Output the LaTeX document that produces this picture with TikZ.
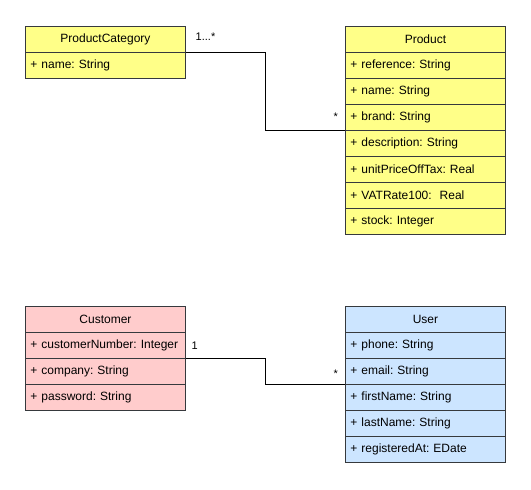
\documentclass[tikz,border=0pt]{standalone}
\usepackage{fontspec}
\setmainfont{Liberation Sans}
\definecolor{yfill}{HTML}{FFFF88}
\definecolor{rfill}{HTML}{FFCCCC}
\definecolor{bfill}{HTML}{CCE5FF}
\definecolor{cstroke}{HTML}{36393D}
\hyphenpenalty=10000
\exhyphenpenalty=10000
\frenchspacing
\begin{document}
\begin{tikzpicture}[x=1pt,y=-1pt,
  box/.style={draw=cstroke, line width=0.9pt, minimum width=160pt, minimum height=26pt,
    inner ysep=0pt, anchor=north west,
    font=\fontsize{12}{14}\selectfont\frenchspacing},
  head/.style={box, text width=148pt, inner xsep=6pt, align=center},
  row/.style={box, text width=150pt, inner xsep=5pt, align=left},
  yel/.style={fill=yfill}, red/.style={fill=rfill}, blu/.style={fill=bfill},
  mult/.style={inner sep=0pt, font=\fontsize{11}{13}\selectfont},
  conn/.style={draw=black, line width=0.9pt}]
\useasboundingbox (0,0) rectangle (531,490);
% ProductCategory
\node[head,yel] (pchead) at (25,26) {ProductCategory};
\node[row,yel] (pcname) at (25,52) {+ name: String};
% Product
\node[head,yel] (phead) at (345,26) {Product};
\node[row,yel] (pref) at (345,52) {+ reference: String};
\node[row,yel] (pname) at (345,78) {+ name: String};
\node[row,yel] (pbrand) at (345,104) {+ brand: String};
\node[row,yel] (pdesc) at (345,130) {+ description: String};
\node[row,yel] (pprice) at (345,156) {+ unitPriceOffTax: Real};
\node[row,yel] (pvat) at (345,182) {+ VATRate100:\ \ Real};
\node[row,yel] (pstock) at (345,208) {+ stock: Integer};
% Customer
\node[head,red] (chead) at (25,306) {Customer};
\node[row,red] (cnum) at (25,332) {+ customerNumber: Integer};
\node[row,red] (ccomp) at (25,358) {+ company: String};
\node[row,red] (cpass) at (25,384) {+ password: String};
% User
\node[head,blu] (uhead) at (345,306) {User};
\node[row,blu] (uphone) at (345,332) {+ phone: String};
\node[row,blu] (uemail) at (345,358) {+ email: String};
\node[row,blu] (ufirst) at (345,384) {+ firstName: String};
\node[row,blu] (ulast) at (345,410) {+ lastName: String};
\node[row,blu] (ureg) at (345,436) {+ registeredAt: EDate};
% connectors
\coordinate (m1) at (265.5,0);
\draw[conn] (pchead.south east) -- (pchead.south east -| m1) |- (pbrand.south west);
\draw[conn] (cnum.south east) -- (cnum.south east -| m1) |- (uemail.south west);
% multiplicities
\node[mult] (l1) at (205.5,37) {1...*};
\node[mult] (l2) at (335.7,116.5) {*};
\node[mult] (l3) at (194.7,346) {1};
\node[mult] (l4) at (335.7,374) {*};
\end{tikzpicture}
\end{document}
